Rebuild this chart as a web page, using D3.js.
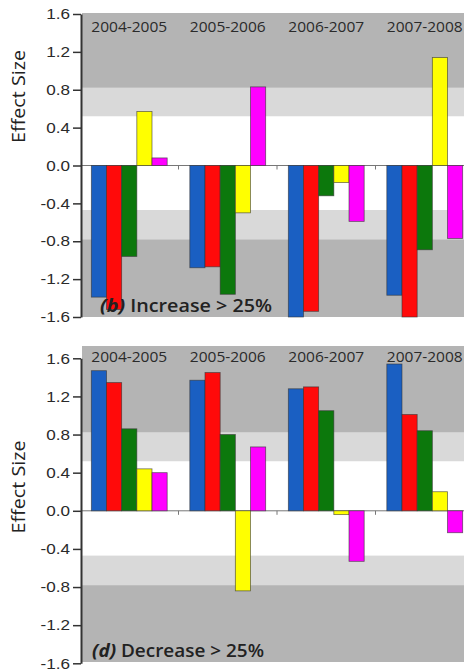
<!DOCTYPE html>
<html>
<head>
<meta charset="utf-8">
<script src="https://cdn.jsdelivr.net/npm/d3@7"></script>
<style>
  html, body { margin: 0; padding: 0; background: #fff; }
  svg { display: block; }
</style>
</head>
<body>
<svg id="chart" width="469" height="670"></svg>
<script>
// ---------------- data ----------------
const years = ["2004-2005", "2005-2006", "2006-2007", "2007-2008"];
const seriesColors = ["#1a5fc2", "#ff0a0a", "#0c780c", "#ffff00", "#ff00ff"];
// panel (b): Increase > 25%   (one row per period, five series)
const increaseValues = [
  [-1.39, -1.52, -0.96,  0.57,  0.08],
  [-1.08, -1.07, -1.36, -0.50,  0.83],
  [-1.60, -1.54, -0.32, -0.18, -0.59],
  [-1.37, -1.60, -0.89,  1.14, -0.77]
];
// panel (d): Decrease > 25%
const decreaseValues = [
  [1.47, 1.345, 0.86,  0.44,  0.40],
  [1.37, 1.45,  0.80, -0.84,  0.67],
  [1.28, 1.30,  1.05, -0.04, -0.53],
  [1.54, 1.01,  0.84,  0.20, -0.23]
];
const yTicks = [1.6, 1.2, 0.8, 0.4, 0.0, -0.4, -0.8, -1.2, -1.6];
// shaded effect-size bands [from, to, shade]
const bands = [
  [0.82, 1.6, "dark"], [0.52, 0.82, "light"],
  [-0.78, -0.47, "light"], [-1.6, -0.78, "dark"]
];
const panelLetters = ["(b)", "(d)"];
const panelTitles = [" Increase > 25%", " Decrease > 25%"];
const yLabel = "Effect Size";

// ---------------- layout ----------------
const svg = d3.select("#chart");
const xLeft = 80, xRight = 474;          // category axis extent
const bgLeft = 82, bgRight = 464;        // shaded plot area
const axisX = 81;
const panels = [
  { values: increaseValues, yRange: [317, 14], bgTop: 13, bgBottom: 317,
    yearY: 31.5, titleX: 100, titleY: 311.5, axisLabelY: 96.5 },
  { values: decreaseValues, yRange: [663.3, 358.3], bgTop: 346, bgBottom: 662,
    yearY: 361.5, titleX: 92, titleY: 656.5, axisLabelY: 487 }
];
const shade = { dark: "#b4b4b4", light: "#d9d9d9" };

const x0 = d3.scaleBand().domain(years).range([xLeft, xRight])
  .paddingInner(0.23).paddingOuter(0.115);
const x1 = d3.scaleBand().domain(d3.range(5)).range([0, x0.bandwidth()]);

panels.forEach((p, pi) => {
  const y = d3.scaleLinear().domain([-1.6, 1.6]).range(p.yRange);
  const g = svg.append("g");

  // background
  g.append("rect").attr("x", bgLeft).attr("y", p.bgTop)
    .attr("width", bgRight - bgLeft).attr("height", p.bgBottom - p.bgTop)
    .attr("fill", "#ffffff");
  bands.forEach(b => {
    const top = b[1] === 1.6 ? p.bgTop : y(b[1]);
    const bot = b[0] === -1.6 ? p.bgBottom : y(b[0]);
    g.append("rect").attr("x", bgLeft).attr("y", top)
      .attr("width", bgRight - bgLeft).attr("height", bot - top)
      .attr("fill", shade[b[2]]);
  });

  // zero line with category separators
  g.append("line").attr("x1", axisX).attr("x2", bgRight)
    .attr("y1", y(0)).attr("y2", y(0))
    .attr("stroke", "#777").attr("stroke-width", 1);
  years.slice(1).forEach(yr => {
    const xs = x0(yr) - x0.step() * x0.paddingInner() / 2;
    g.append("line").attr("x1", xs).attr("x2", xs)
      .attr("y1", y(0)).attr("y2", y(0) + 4)
      .attr("stroke", "#777").attr("stroke-width", 1);
  });

  // year labels
  years.forEach(yr => {
    g.append("text").attr("x", x0(yr) + x0.bandwidth() / 2).attr("y", p.yearY)
      .attr("text-anchor", "middle")
      .attr("font-family", "Open Sans, sans-serif").attr("font-size", 14)
      .attr("fill", "#2a2a2a")
      .attr("textLength", 76).attr("lengthAdjust", "spacingAndGlyphs")
      .text(yr);
  });

  // bars
  p.values.forEach((row, gi) => {
    row.forEach((v, si) => {
      g.append("rect")
        .attr("x", x0(years[gi]) + x1(si))
        .attr("y", y(Math.max(0, v)))
        .attr("width", x1.bandwidth())
        .attr("height", Math.abs(y(v) - y(0)))
        .attr("fill", seriesColors[si])
        .attr("stroke", "#333").attr("stroke-width", 0.8).attr("stroke-opacity", 0.7);
    });
  });

  // y axis
  const ax = g.append("g").attr("transform", `translate(${axisX},0)`)
    .call(d3.axisLeft(y).tickValues(yTicks).tickSize(8).tickSizeOuter(0).tickFormat(() => ""));
  ax.select(".domain").attr("stroke", "#333").attr("stroke-width", 2);
  ax.selectAll(".tick line").attr("stroke", "#333").attr("stroke-width", 1.5);
  yTicks.forEach(t => {
    g.append("g").attr("transform", `translate(70,${y(t)}) scale(1.18,1)`)
      .append("text").attr("x", 0).attr("dy", "0.36em")
      .attr("text-anchor", "end")
      .attr("font-family", "Liberation Sans, Arial, sans-serif").attr("font-size", 14.5)
      .attr("fill", "#2a2a2a")
      .text(t.toFixed(1));
  });

  // axis label
  g.append("text")
    .attr("transform", `translate(25,${p.axisLabelY}) rotate(-90)`)
    .attr("text-anchor", "middle")
    .attr("font-family", "Open Sans, sans-serif").attr("font-size", 19)
    .attr("fill", "#222")
    .attr("textLength", 93).attr("lengthAdjust", "spacingAndGlyphs")
    .text(yLabel);

  // panel title
  const tt = g.append("text").attr("x", p.titleX).attr("y", p.titleY)
    .attr("font-family", "Open Sans, sans-serif").attr("font-size", 18)
    .attr("fill", "#222")
    .attr("textLength", 172).attr("lengthAdjust", "spacingAndGlyphs");
  tt.append("tspan").attr("font-weight", 700).attr("font-style", "italic").text(panelLetters[pi]);
  tt.append("tspan").attr("font-weight", 600).text(panelTitles[pi]);
});
</script>
</body>
</html>
